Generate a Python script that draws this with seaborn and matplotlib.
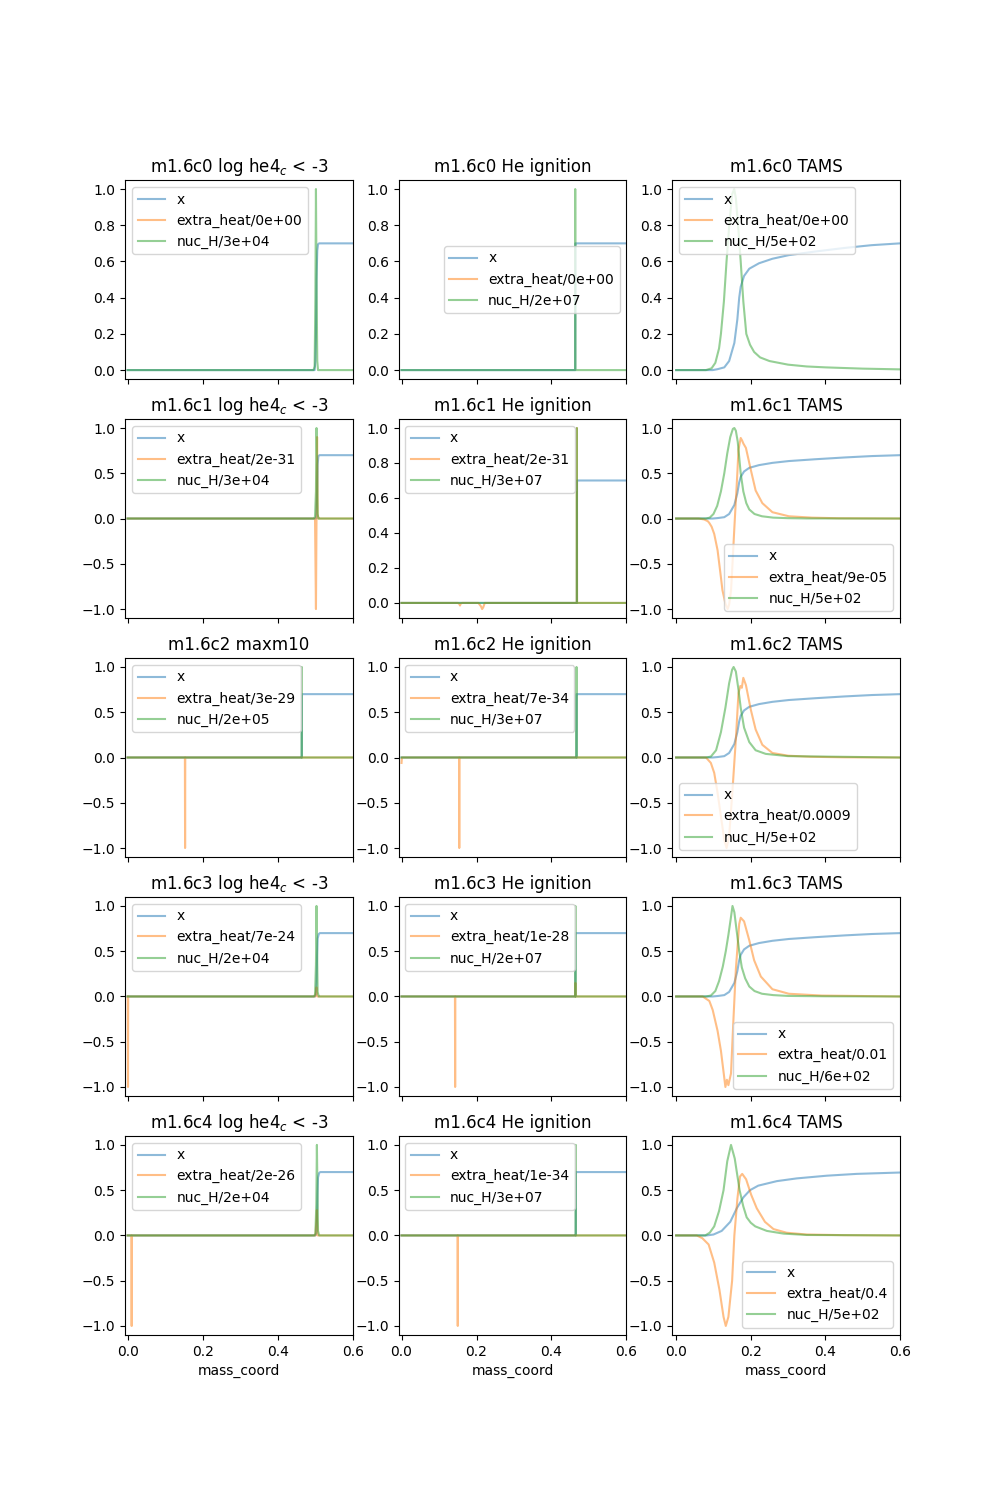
import numpy as np
import matplotlib
matplotlib.use("Agg")
import matplotlib.pyplot as plt
import matplotlib.lines as mlines
import seaborn as sns

# ---------------- data ----------------
# the step profiles in the "log he4_c < -3" / "He ignition" / "maxm10" panels
c0_core_m = [0.0, 0.495, 0.498, 0.500, 0.5015, 0.503, 0.505, 0.507, 0.510, 0.6]
c0_core_x = [0, 0, 0, 0.05, 0.2, 0.5, 0.66, 0.695, 0.7, 0.7]
c0_core_h = [0, 0, 0.02, 0.4, 1.0, 0.5, 0.05, 0.0, 0, 0]

c0_ign_m = [0.0, 0.4630, 0.4633, 0.4637, 0.4640, 0.6]
c0_ign_x = [0, 0, 0, 0.7, 0.7, 0.7]
c0_ign_h = [0, 0, 1.0, 0.0, 0, 0]

c1_core_m = [0.0, 0.496, 0.499, 0.5015, 0.503, 0.5045, 0.506, 0.508, 0.511, 0.6]
c1_core_x = [0, 0, 0, 0.0, 0.05, 0.3, 0.6, 0.69, 0.7, 0.7]
c1_core_e = [0, 0, 0, -1.0, 0.0, 0.9, 0.05, 0, 0, 0]
c1_core_h = [0, 0, 0.02, 0.3, 1.0, 0.6, 0.05, 0, 0, 0]

c1_ign_m = [0.0, 0.4675, 0.4678, 0.4681, 0.4684, 0.6]
c1_ign_x = [0, 0, 0, 0.7, 0.7, 0.7]
c1_ign_h = [0, 0, 1.0, 0.0, 0, 0]
c1_ign_em = [0.0, 0.150, 0.154, 0.156, 0.158, 0.162, 0.205, 0.212, 0.215,
             0.218, 0.222, 0.4675, 0.4678, 0.4681, 0.6]
c1_ign_e = [0, 0, -0.005, -0.015, -0.003, 0, 0, -0.02, -0.035, -0.025, 0,
            0, 1.0, 0, 0]

c2_max_m = [0.0, 0.4635, 0.4638, 0.4641, 0.4644, 0.6]
c2_max_x = [0, 0, 0, 0.7, 0.7, 0.7]
c2_max_h = [0, 0, 1.0, 0.0, 0, 0]
c2_max_em = [0.0, 0.1525, 0.1530, 0.1535, 0.6]
c2_max_e = [0, 0, -1.0, 0, 0]

c2_ign_m = [0.0, 0.4665, 0.4668, 0.4671, 0.4674, 0.6]
c2_ign_x = [0, 0, 0, 0.7, 0.7, 0.7]
c2_ign_h = [0, 0, 1.0, 0.0, 0, 0]
c2_ign_em = [0.0, 0.001, 0.1535, 0.1540, 0.1545, 0.6]
c2_ign_e = [-0.06, 0, 0, -1.0, 0, 0]

c3_core_m = [0.0, 0.496, 0.499, 0.5015, 0.503, 0.5045, 0.506, 0.509, 0.512, 0.6]
c3_core_x = [0, 0, 0, 0.02, 0.15, 0.45, 0.64, 0.69, 0.7, 0.7]
c3_core_h = [0, 0, 0.02, 0.35, 1.0, 0.5, 0.05, 0, 0, 0]
c3_core_em = [0.0, 0.0005, 0.001, 0.0015, 0.499, 0.5015, 0.503, 0.505, 0.6]
c3_core_e = [0, 0, -1.0, 0, 0, 0.05, 0.1, 0, 0]

c3_ign_m = [0.0, 0.4635, 0.4638, 0.4641, 0.4644, 0.6]
c3_ign_x = [0, 0, 0, 0.7, 0.7, 0.7]
c3_ign_h = [0, 0, 1.0, 0.0, 0, 0]
c3_ign_em = [0.0, 0.1425, 0.1430, 0.1435, 0.4635, 0.4638, 0.4641, 0.6]
c3_ign_e = [0, 0, -1.0, 0, 0, 0.15, 0, 0]

c4_core_m = [0.0, 0.497, 0.500, 0.5025, 0.504, 0.5055, 0.507, 0.510, 0.513, 0.6]
c4_core_x = [0, 0, 0, 0.02, 0.15, 0.45, 0.64, 0.69, 0.7, 0.7]
c4_core_h = [0, 0, 0.02, 0.35, 1.0, 0.5, 0.05, 0, 0, 0]
c4_core_em = [0.0, 0.010, 0.0105, 0.011, 0.0115, 0.500, 0.5025, 0.504, 0.506, 0.6]
c4_core_e = [0, 0, -1.0, -1.0, 0, 0, 0.15, 0.28, 0, 0]

c4_ign_m = [0.0, 0.4645, 0.4648, 0.4651, 0.4654, 0.6]
c4_ign_x = [0, 0, 0, 0.7, 0.7, 0.7]
c4_ign_h = [0, 0, 1.0, 0.0, 0, 0]
c4_ign_em = [0.0, 0.1495, 0.1500, 0.1505, 0.6]
c4_ign_e = [0, 0, -1.0, 0, 0]

# TAMS profiles
tams_xm = [0, 0.098, 0.111, 0.129, 0.142, 0.156, 0.164, 0.169, 0.173, 0.182,
           0.196, 0.222, 0.258, 0.302, 0.373, 0.453, 0.524, 0.6]
tams_x = [0, 0, 0.005, 0.015, 0.05, 0.15, 0.28, 0.4, 0.46, 0.52,
          0.56, 0.59, 0.615, 0.635, 0.655, 0.675, 0.69, 0.70]

c0_tams_hm = [0, 0.08, 0.095, 0.105, 0.115, 0.12, 0.128, 0.135, 0.143, 0.150,
              0.1556, 0.160, 0.166, 0.173, 0.18, 0.188, 0.198, 0.209, 0.225,
              0.25, 0.3, 0.35, 0.4, 0.5, 0.6]
c0_tams_h = [0, 0, 0.01, 0.04, 0.12, 0.2, 0.38, 0.6, 0.82, 0.97,
             1.0, 0.95, 0.8, 0.6, 0.38, 0.2, 0.14, 0.1, 0.07,
             0.05, 0.03, 0.02, 0.015, 0.008, 0.004]

c1_tams_hm = [0, 0.08, 0.09, 0.1, 0.11, 0.12, 0.129, 0.137, 0.145, 0.152, 0.156,
              0.160, 0.165, 0.173, 0.18, 0.188, 0.196, 0.21, 0.23, 0.26, 0.3,
              0.35, 0.6]
c1_tams_h = [0, 0, 0.01, 0.05, 0.14, 0.3, 0.5, 0.72, 0.9, 0.99, 1.0,
             0.97, 0.85, 0.5, 0.3, 0.17, 0.1, 0.05, 0.025, 0.01, 0.004,
             0.001, 0]
c1_tams_em = [0, 0.06, 0.075, 0.085, 0.089, 0.095, 0.102, 0.111, 0.12, 0.124,
              0.132, 0.138, 0.142, 0.147, 0.151, 0.156, 0.16, 0.164, 0.167,
              0.173, 0.177, 0.18, 0.187, 0.2, 0.213, 0.231, 0.258, 0.302,
              0.364, 0.436, 0.6]
c1_tams_e = [0, 0, -0.01, -0.03, -0.05, -0.09, -0.17, -0.35, -0.65, -0.79,
             -0.94, -1.0, -0.95, -0.8, -0.5, -0.1, 0.2, 0.5, 0.76,
             0.89, 0.86, 0.83, 0.78, 0.54, 0.31, 0.17, 0.07, 0.025,
             0.01, 0.003, 0]

c2_tams_hm = [0, 0.08, 0.093, 0.107, 0.12, 0.132, 0.142, 0.150, 0.154, 0.16,
              0.167, 0.173, 0.182, 0.196, 0.213, 0.24, 0.3, 0.6]
c2_tams_h = [0, 0, 0.01, 0.08, 0.28, 0.55, 0.82, 0.97, 1.0, 0.95,
             0.75, 0.55, 0.33, 0.17, 0.08, 0.04, 0.015, 0]
c2_tams_em = [0, 0.08, 0.093, 0.102, 0.111, 0.12, 0.129, 0.135, 0.142, 0.151,
              0.16, 0.167, 0.172, 0.176, 0.18, 0.187, 0.2, 0.213, 0.231,
              0.258, 0.3, 0.36, 0.45, 0.6]
c2_tams_e = [0, 0, -0.06, -0.17, -0.39, -0.65, -0.91, -1.0, -0.87, -0.36,
             0.2, 0.71, 0.79, 0.77, 0.88, 0.8, 0.53, 0.31, 0.14,
             0.05, 0.02, 0.008, 0.002, 0]

c3_tams_hm = [0, 0.08, 0.093, 0.105, 0.115, 0.125, 0.133, 0.14, 0.146, 0.151,
              0.156, 0.162, 0.169, 0.176, 0.185, 0.196, 0.21, 0.23, 0.26,
              0.3, 0.4, 0.6]
c3_tams_h = [0, 0, 0.01, 0.06, 0.17, 0.33, 0.5, 0.68, 0.85, 1.0,
             0.93, 0.73, 0.5, 0.32, 0.2, 0.11, 0.06, 0.03, 0.015,
             0.006, 0.002, 0]
c3_tams_em = [0, 0.071, 0.089, 0.098, 0.111, 0.12, 0.126, 0.132, 0.136, 0.14,
              0.147, 0.153, 0.16, 0.169, 0.173, 0.182, 0.196, 0.209, 0.227,
              0.258, 0.302, 0.39, 0.6]
c3_tams_e = [0, 0, -0.05, -0.15, -0.38, -0.6, -0.8, -1.0, -0.92, -0.98,
             -0.85, -0.3, 0.3, 0.8, 0.87, 0.83, 0.62, 0.4, 0.22,
             0.08, 0.03, 0.01, 0]

c4_tams_xm = [0, 0.082, 0.1, 0.122, 0.145, 0.1625, 0.18, 0.198, 0.22, 0.27,
              0.323, 0.404, 0.484, 0.6]
c4_tams_x = [0, 0, 0.01, 0.05, 0.15, 0.3, 0.42, 0.5, 0.55, 0.6,
             0.63, 0.66, 0.68, 0.695]
c4_tams_hm = [0, 0.078, 0.09, 0.102, 0.115, 0.127, 0.137, 0.147, 0.157, 0.17,
              0.18, 0.189, 0.2, 0.212, 0.243, 0.288, 0.35, 0.6]
c4_tams_h = [0, 0, 0.03, 0.1, 0.27, 0.5, 0.82, 1.0, 0.85, 0.5,
             0.32, 0.2, 0.14, 0.1, 0.05, 0.02, 0.005, 0]
c4_tams_em = [0, 0.055, 0.07, 0.087, 0.102, 0.116, 0.127, 0.133, 0.14, 0.15,
              0.156, 0.164, 0.171, 0.177, 0.1875, 0.201, 0.216, 0.238, 0.261,
              0.296, 0.35, 0.45, 0.6]
c4_tams_e = [0, 0, -0.03, -0.1, -0.3, -0.6, -0.9, -1.0, -0.9, -0.5,
             0.0, 0.4, 0.65, 0.68, 0.62, 0.45, 0.3, 0.15, 0.07,
             0.03, 0.01, 0.003, 0]

titles = [
    ["m1.6c0 log he4$_c$ < -3", "m1.6c0 He ignition", "m1.6c0 TAMS"],
    ["m1.6c1 log he4$_c$ < -3", "m1.6c1 He ignition", "m1.6c1 TAMS"],
    ["m1.6c2 maxm10", "m1.6c2 He ignition", "m1.6c2 TAMS"],
    ["m1.6c3 log he4$_c$ < -3", "m1.6c3 He ignition", "m1.6c3 TAMS"],
    ["m1.6c4 log he4$_c$ < -3", "m1.6c4 He ignition", "m1.6c4 TAMS"],
]
heat_norm = [
    ["0e+00", "0e+00", "0e+00"],
    ["2e-31", "2e-31", "9e-05"],
    ["3e-29", "7e-34", "0.0009"],
    ["7e-24", "1e-28", "0.01"],
    ["2e-26", "1e-34", "0.4"],
]
nuc_norm = [
    ["3e+04", "2e+07", "5e+02"],
    ["3e+04", "3e+07", "5e+02"],
    ["2e+05", "3e+07", "5e+02"],
    ["2e+04", "2e+07", "6e+02"],
    ["2e+04", "3e+07", "5e+02"],
]

# (x, extra_heat, nuc_H) as (mass, value) pairs per panel
profiles = [
    [[(c0_core_m, c0_core_x), None, (c0_core_m, c0_core_h)],
     [(c0_ign_m, c0_ign_x), None, (c0_ign_m, c0_ign_h)],
     [(tams_xm, tams_x), None, (c0_tams_hm, c0_tams_h)]],
    [[(c1_core_m, c1_core_x), (c1_core_m, c1_core_e), (c1_core_m, c1_core_h)],
     [(c1_ign_m, c1_ign_x), (c1_ign_em, c1_ign_e), (c1_ign_m, c1_ign_h)],
     [(tams_xm, tams_x), (c1_tams_em, c1_tams_e), (c1_tams_hm, c1_tams_h)]],
    [[(c2_max_m, c2_max_x), (c2_max_em, c2_max_e), (c2_max_m, c2_max_h)],
     [(c2_ign_m, c2_ign_x), (c2_ign_em, c2_ign_e), (c2_ign_m, c2_ign_h)],
     [(tams_xm, tams_x), (c2_tams_em, c2_tams_e), (c2_tams_hm, c2_tams_h)]],
    [[(c3_core_m, c3_core_x), (c3_core_em, c3_core_e), (c3_core_m, c3_core_h)],
     [(c3_ign_m, c3_ign_x), (c3_ign_em, c3_ign_e), (c3_ign_m, c3_ign_h)],
     [(tams_xm, tams_x), (c3_tams_em, c3_tams_e), (c3_tams_hm, c3_tams_h)]],
    [[(c4_core_m, c4_core_x), (c4_core_em, c4_core_e), (c4_core_m, c4_core_h)],
     [(c4_ign_m, c4_ign_x), (c4_ign_em, c4_ign_e), (c4_ign_m, c4_ign_h)],
     [(c4_tams_xm, c4_tams_x), (c4_tams_em, c4_tams_e), (c4_tams_hm, c4_tams_h)]],
]

legend_locs = [
    ["upper left", "center right", "upper left"],
    ["upper left", "upper left", "lower right"],
    ["upper left", "upper left", "lower right"],
    ["upper left", "upper left", "lower right"],
    ["upper left", "upper left", "lower right"],
]
legend_locs[2][2] = "lower left"
col_left = [-0.007, -0.008, -0.011]

colors = ["#1f77b4", "#ff7f0e", "#2ca02c"]

fig, axes = plt.subplots(5, 3, figsize=(10, 15), sharex="col")

for r in range(5):
    for c in range(3):
        ax = axes[r, c]
        for pair, color in zip(profiles[r][c], colors):
            if pair is None:
                continue
            m, y = pair
            sns.lineplot(x=np.array(m, dtype=float), y=np.array(y, dtype=float),
                         ax=ax, color=color, alpha=0.5, estimator=None,
                         sort=False, legend=False)
        labels = ["x", "extra_heat/" + heat_norm[r][c], "nuc_H/" + nuc_norm[r][c]]
        handles = [mlines.Line2D([], [], color=col, alpha=0.5) for col in colors]
        ax.legend(handles, labels, loc=legend_locs[r][c])
        ax.set_title(titles[r][c])
        ax.set_ylabel("")
        ax.set_xlabel("mass_coord" if r == 4 else "")

for c in range(3):
    axes[0, c].set_xlim(col_left[c], 0.6)
    axes[0, c].set_xticks([0.0, 0.2, 0.4, 0.6])

plt.savefig("out.png", dpi=100)
